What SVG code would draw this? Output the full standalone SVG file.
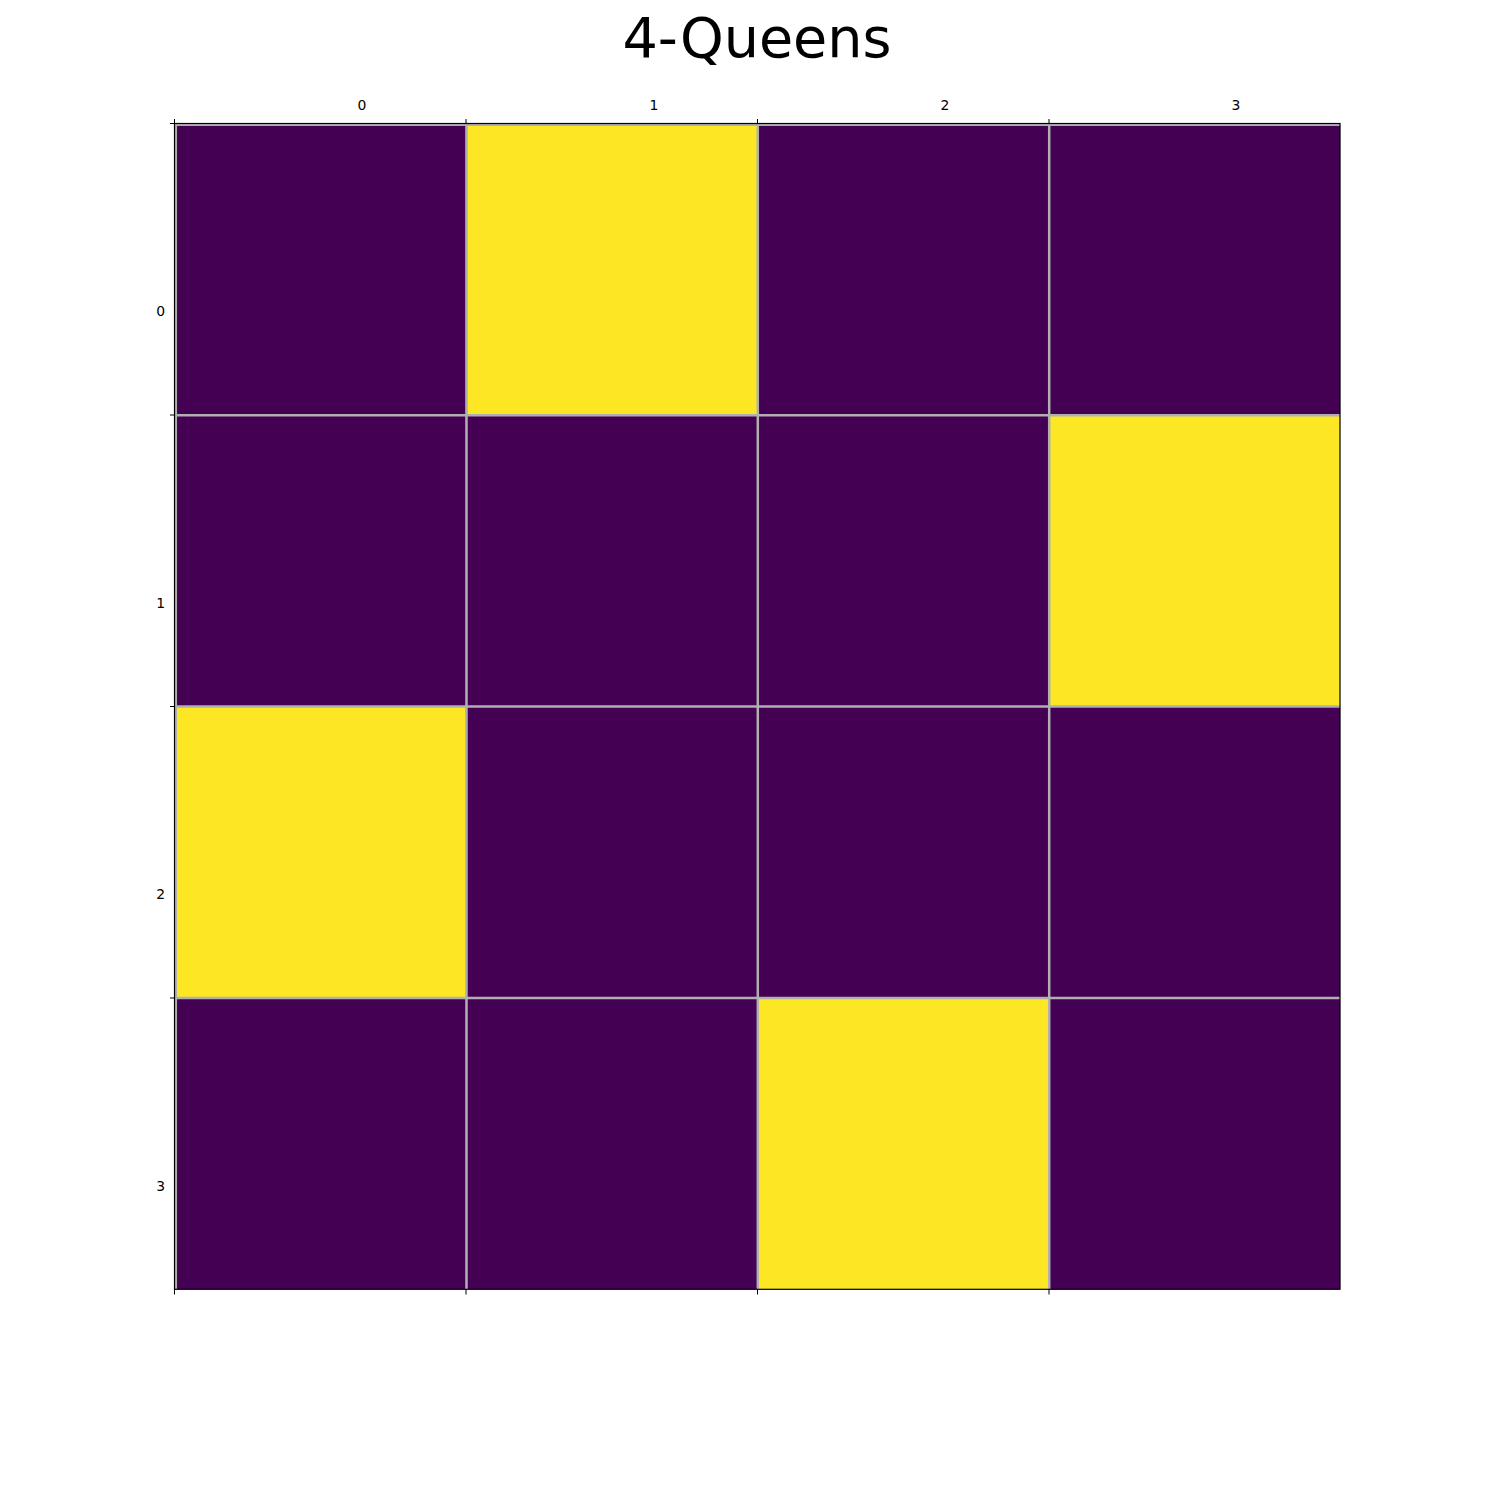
<svg xmlns="http://www.w3.org/2000/svg" width="1500" height="1500" viewBox="0 0 1500 1500">
<style>
.p{fill:#440154}.y{fill:#fde725}
.g{stroke:#b0b0b0;stroke-width:2.5;fill:none}
.t{stroke:#000;stroke-width:1;fill:none}
.l{font-family:"DejaVu Sans",sans-serif;font-size:13.9px;fill:#000}
</style>
<rect width="1500" height="1500" fill="#fff"/>
<text x="757" y="57" text-anchor="middle" font-family="DejaVu Sans, sans-serif" font-size="55.6" fill="#000">4-Queens</text>
<g id="cells">
<rect class="p" x="174.5" y="123.5" width="291.4" height="291.4"/>
<rect class="y" x="465.9" y="123.5" width="291.4" height="291.4"/>
<rect class="p" x="757.3" y="123.5" width="291.4" height="291.4"/>
<rect class="p" x="1048.7" y="123.5" width="291.4" height="291.4"/>
<rect class="p" x="174.5" y="414.9" width="291.4" height="291.4"/>
<rect class="p" x="465.9" y="414.9" width="291.4" height="291.4"/>
<rect class="p" x="757.3" y="414.9" width="291.4" height="291.4"/>
<rect class="y" x="1048.7" y="414.9" width="291.4" height="291.4"/>
<rect class="y" x="174.5" y="706.3" width="291.4" height="291.4"/>
<rect class="p" x="465.9" y="706.3" width="291.4" height="291.4"/>
<rect class="p" x="757.3" y="706.3" width="291.4" height="291.4"/>
<rect class="p" x="1048.7" y="706.3" width="291.4" height="291.4"/>
<rect class="p" x="174.5" y="997.7" width="291.4" height="291.4"/>
<rect class="p" x="465.9" y="997.7" width="291.4" height="291.4"/>
<rect class="y" x="757.3" y="997.7" width="291.4" height="291.4"/>
<rect class="p" x="1048.7" y="997.7" width="291.4" height="291.4"/>
</g>
<g id="grid" class="g">
<path d="M175.8 123.5V1289M466.5 123.5V1289M757.8 123.5V1289M1049.2 123.5V1289"/>
<path d="M174.5 124.8H1340M174.5 415.3H1340M174.5 706.6H1340M174.5 998H1340"/>
</g>
<rect x="174.5" y="123.5" width="1165.5" height="1165.8" fill="none" stroke="#000" stroke-width="1.2"/>
<g id="ticks" class="t">
<path d="M174.5 123.5V119M466 123.5V119M757.5 123.5V119M1049 123.5V119"/>
<path d="M174.5 1289.3V1294.5M466 1289.3V1294.5M757.5 1289.3V1294.5M1049 1289.3V1294.5"/>
<path d="M174.5 123.5H170M174.5 415H170M174.5 706.5H170M174.5 998H170"/>
</g>
<g id="labels" class="l">
<text x="362" y="110" text-anchor="middle">0</text>
<text x="654" y="110" text-anchor="middle">1</text>
<text x="945" y="110" text-anchor="middle">2</text>
<text x="1236" y="110" text-anchor="middle">3</text>
<text x="165" y="316" text-anchor="end">0</text>
<text x="165" y="608" text-anchor="end">1</text>
<text x="165" y="899" text-anchor="end">2</text>
<text x="165" y="1191" text-anchor="end">3</text>
</g>
</svg>
